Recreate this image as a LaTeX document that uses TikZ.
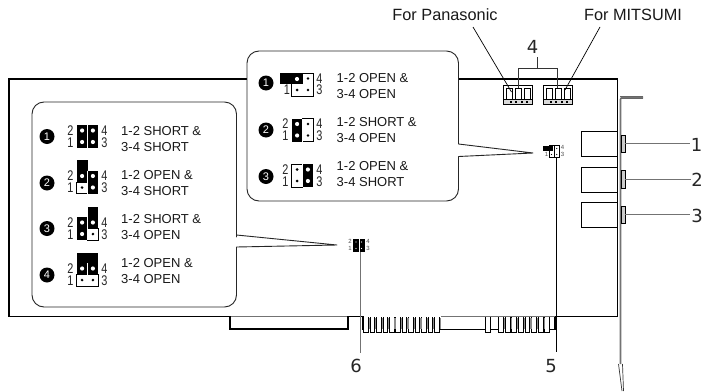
\documentclass[tikz,border=0pt]{standalone}
\usepackage{fontspec}
\usepackage{graphicx}
\setmainfont{Liberation Sans}
\newfontfamily\numfont{DejaVu Sans}
\tikzset{
  x=1pt,y=-1pt,
  board/.style={line width=1.5pt,black},
  thin line/.style={line width=0.8pt,black},
  gray line/.style={line width=1pt,black!55},
  callout/.style={line width=0.9pt,black!85,fill=white,line join=round},
  txt/.style={font=\fontsize{13}{13}\selectfont,anchor=west,inner sep=0pt,text=black!90},
  big/.style={font=\numfont\fontsize{18}{18}\selectfont,inner sep=0pt,text=black!85},
  top/.style={font=\fontsize{16.3}{16}\selectfont,inner sep=0pt,text=black!90},
  bul/.style={circle,fill=black,inner sep=0pt,minimum size=15pt,text=white,font=\fontsize{11}{11}\selectfont},
  pinno/.style={font=\fontsize{14}{14}\selectfont,inner sep=0pt,text=black!85},
  tinyno/.style={font=\fontsize{6}{6}\selectfont,inner sep=0pt,text=black!70},
}
\newcommand{\pincol}[3]{% x center, y center, state
  \ifx#3S\relax
    \fill[black] (#1-5.4,#2-11.5) rectangle (#1+5.4,#2+11.5);
    \fill[white] (#1,#2-6) circle (2.1) (#1,#2+5.5) circle (2.1);
  \fi
  \ifx#3O\relax
    \draw[fill=white,line width=.8pt] (#1-5.4,#2) rectangle (#1+5.4,#2+11.5);
    \fill[black] (#1-5.4,#2-22) rectangle (#1+5.4,#2);
    \fill[white] (#1,#2-6) circle (2.1);
    \fill[black] (#1,#2+5.5) circle (1.4);
  \fi
  \ifx#3W\relax
    \draw[fill=white,line width=.8pt] (#1-5.4,#2-11.5) rectangle (#1+5.4,#2+11.5);
    \fill[black] (#1,#2-6) circle (1.4) (#1,#2+5.5) circle (1.4);
  \fi
}
\newcommand{\jump}[4]{% cx cy left right
  \pgfmathsetmacro\jl{#1-5.4}
  \pgfmathsetmacro\jr{#1+5.4}
  \pincol{\jl}{#2}{#3}
  \pincol{\jr}{#2}{#4}
  \draw[white,line width=.6pt] (#1,#2-11.5) -- (#1,#2+11.5);
}
\newcommand{\pn}[3]{\node[pinno] at (#1,#2) {\scalebox{0.78}[1]{#3}};}
\newcommand{\jnums}[2]{% cx cy
  \pn{#1-17}{#2-6}{2}\pn{#1-17}{#2+6}{1}\pn{#1+17}{#2-6}{4}\pn{#1+17}{#2+6}{3}
}
\newcommand{\conn}[2]{% x y of top-left
  \begin{scope}[shift={(#1,#2)}]
    \fill[white] (0,0) rectangle (30,20);
    \draw[line width=1pt] (0.5,0.5) rectangle (29.5,19.5);
    \fill[black] (0.5,13.5) rectangle (29.5,15);
    \fill[black!15] (1,15) rectangle (29,19);
    \foreach \k in {7,12,18,23} \fill[black] (\k,16.4) rectangle ++(2.2,1.2);
    \draw[line width=.9pt] (3,13.5) -- (3,3) -- (9,3) -- (9,13.5);
    \draw[line width=.9pt] (12,13.5) -- (12,3) -- (18,3) -- (18,13.5);
    \draw[line width=.9pt] (21,13.5) -- (21,3) -- (27,3) -- (27,13.5);
  \end{scope}
}
\begin{document}
\begin{tikzpicture}
\useasboundingbox (0,0) rectangle (704,391);
\fill[white] (0,0) rectangle (704,391);

% bracket
\draw[gray line,line width=1.6pt,rounded corners=2pt] (643,97.5) -- (620.5,97.5) -- (620.5,364);
\draw[black!60,line width=.8pt] (643,96.5) -- (620,96.5) (643,98.5) -- (620,98.5);
\draw[black!80,line width=.7pt] (618.5,364) -- (622,391) (622.5,364) -- (623.5,391);

% board
\draw[gray line] (230,316.7) -- (348,316.7) (441,316.7) -- (555,316.7);
\draw[board] (555,316.7) -- (617.7,316.7) -- (617.7,79) -- (9,79) -- (9,316.7) -- (230,316.7) -- (230,329) -- (348,329) -- (348,316.7) -- (363,316.7) -- (363,330);
\draw[board] (440,329.5) -- (486,329.5) (490,329.5) -- (498,329.5) (549,329.5) -- (555,329.5) -- (555,316.7);
% fingers
\foreach \k in {0,...,11}
  \draw[line width=.7pt,fill=white] ({363.5+6.45*\k},317) -- ++(0,15.5) -- ++(4.6,0) -- ++(0,-15.5);
\foreach \k in {0,...,11}
  \fill[black!45] ({368.6+6.45*\k},318) rectangle ++(1.3,11);
\draw[line width=.7pt,fill=white] (485.5,317) -- ++(0,15.5) -- ++(4.6,0) -- ++(0,-15.5);
\foreach \k in {0,...,7}
  \draw[line width=.7pt,fill=white] ({498.5+6.6*\k},317) -- ++(0,15.5) -- ++(4.8,0) -- ++(0,-15.5);
\foreach \k in {0,...,6}
  \fill[black!45] ({503.9+6.6*\k},318) rectangle ++(1.3,11);

% right-side audio connectors
\foreach \y/\h in {131.7/25,167/25,202/25}{
  \draw[line width=.9pt,fill=white] (617,\y) -- (581,\y) -- (581,\y+\h) -- (617,\y+\h);
}
\coordinate (t1) at (625,143.5);
\coordinate (t2) at (625,179);
\coordinate (t3) at (625,214.5);
\foreach \y in {135,170.5,206}
  \draw[line width=.8pt,fill=black!20] (621.5,\y) rectangle (625,\y+17.5);

% labels 1-6
\node[big] (n1) at (696.5,145) {1};
\node[big] (n2) at (697,180) {2};
\node[big] (n3) at (697,216) {3};
\coordinate (l1) at (690,143.5);
\coordinate (l2) at (690.5,179);
\coordinate (l3) at (690,214.5);
\draw[gray line] (t1) -- (l1);
\draw[gray line] (t2) -- (l2);
\draw[gray line] (t3) -- (l3);

% callouts
\coordinate (tipA) at (337,245);
\coordinate (tipB) at (533,153);
\draw[callout,rounded corners=12pt] (32,200) -- (32,102) -- (236.5,102) -- (236.5,225) [sharp corners] -- (236.5,235) -- (tipA) -- (236.5,247) -- (236.5,260) [rounded corners=12pt] -- (236.5,307) -- (32,307) -- cycle;
\draw[callout,rounded corners=12pt] (247,120) -- (247,51) -- (458.5,51) -- (458.5,130) [sharp corners] -- (458.5,144) -- (tipB) -- (458.5,156.5) -- (458.5,165) [rounded corners=12pt] -- (458.5,201) -- (247,201) -- cycle;

% left callout contents
\node[bul] (a1) at (47,136.5) {1};
\node[bul] (a2) at (47,183) {2};
\node[bul] (a3) at (47,228.5) {3};
\node[bul] (a4) at (47,275) {4};
\jump{87.5}{136.5}{S}{S}\jnums{87.5}{136.5}
\jump{87.5}{182}{O}{S}\jnums{87.5}{182}
\jump{87.5}{228.5}{S}{O}\jnums{87.5}{228.5}
\jump{87.5}{274.5}{O}{O}\jnums{87.5}{274.5}
\node[txt] (at1a) at (121,131.5) {1-2 SHORT \&};
\node[txt] (at1b) at (121,147) {3-4 SHORT};
\node[txt] (at2a) at (121,175.5) {1-2 OPEN \&};
\node[txt] (at2b) at (121,191) {3-4 SHORT};
\node[txt] (at3a) at (121,219) {1-2 SHORT \&};
\node[txt] (at3b) at (121,235) {3-4 OPEN};
\node[txt] (at4a) at (121,263) {1-2 OPEN \&};
\node[txt] (at4b) at (121,279) {3-4 OPEN};

% top callout contents
\node[bul] (b1) at (266,83) {1};
\node[bul] (b2) at (266,130) {2};
\node[bul] (b3) at (266,176.5) {3};
\jump{302.5}{84.5}{W}{W}
\fill[black] (280,73) rectangle (303,84);
\fill[white] (297,79) circle (2.1);
\pn{287}{90}{1}\pn{319.5}{78.5}{4}\pn{319.5}{90}{3}
\jump{302.5}{130}{S}{W}\jnums{302.5}{130}
\jump{302.5}{175.5}{W}{S}\jnums{302.5}{175.5}
\node[txt] (bt1a) at (336.5,78) {1-2 OPEN \&};
\node[txt] (bt1b) at (336.5,94.5) {3-4 OPEN};
\node[txt] (bt2a) at (336.5,122) {1-2 SHORT \&};
\node[txt] (bt2b) at (336.5,138) {3-4 OPEN};
\node[txt] (bt3a) at (336.5,166) {1-2 OPEN \&};
\node[txt] (bt3b) at (336.5,182) {3-4 SHORT};

% small jumper 6
\fill[black] (353,239) rectangle (364.5,251.5);
\fill[white] (356,242) circle (.6) (361.5,242) circle (.6) (356,248.5) circle (.6) (361.5,248.5) circle (.6);
\draw[white,line width=.3pt] (358.7,239) -- (358.7,251.5);
\node[tinyno] at (350,241) {2};
\node[tinyno] at (350,248.5) {1};
\node[tinyno] at (368,241) {4};
\node[tinyno] at (368,248.5) {3};
\coordinate (j6) at (360,251.5);
\coordinate (e6) at (360,352.5);
\node[big] (n6) at (356,366) {6};
\draw[gray line] (j6) -- (e6);

% small jumper 5
\draw[line width=.7pt,fill=white] (549.5,145.5) rectangle (559,157);
\draw[line width=.4pt] (554.2,145.5) -- (554.2,157);
\fill[black] (543,146) rectangle (553,151);
\fill (551.5,154.5) circle (.7) (556.7,154.5) circle (.7) (556.7,148.5) circle (.7);
\node[tinyno] at (546.5,154.5) {1};
\node[tinyno] at (562.5,147.5) {4};
\node[tinyno] at (562.5,154.5) {3};
\coordinate (j5) at (556.7,157);
\coordinate (e5) at (556.7,351.7);
\node[big] (n5) at (551,366) {5};
\draw[line width=.7pt] (j5) -- (e5);

% top connectors
\conn{503}{85}
\conn{543}{85}
\node[big] (n4) at (532.5,47) {4};
\coordinate (c1) at (518,88);
\coordinate (c2) at (557.7,88);
\coordinate (s4) at (537.7,68);
\coordinate (s4e) at (537.7,56.5);
\draw[thin line,black!80] (c1) -- (518,68) -- (557.7,68) -- (c2);
\draw[thin line,black!80] (s4) -- (s4e);
\node[top] (pan) at (445,14.5) {For Panasonic};
\node[top] (mit) at (633,14.5) {For MITSUMI};
\coordinate (pe) at (511.5,92);
\coordinate (me) at (565,90);
\coordinate (ps) at (473,27);
\coordinate (ms) at (600,27);
\draw[line width=.7pt] (ps) -- (pe);
\draw[line width=.7pt] (ms) -- (me);
\end{tikzpicture}
\end{document}
